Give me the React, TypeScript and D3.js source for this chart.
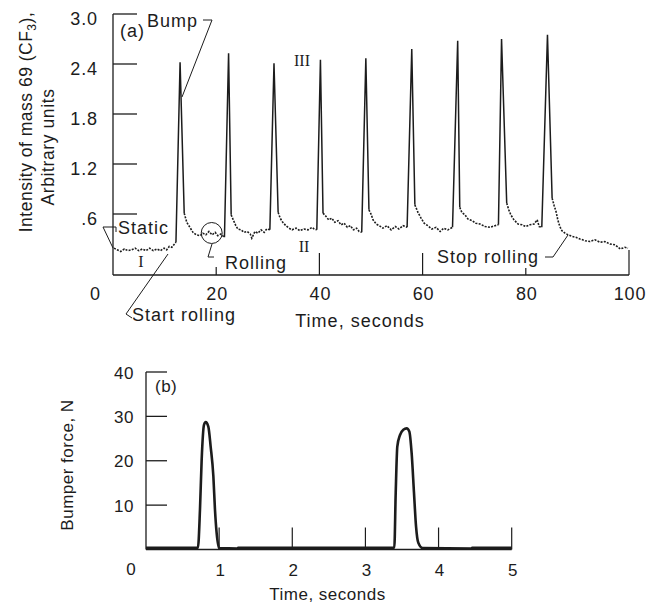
import React from 'react';
import * as d3 from 'd3';

// ---------- Panel (a): intensity of mass 69 vs time ----------
const yTicksA = [0.6, 1.2, 1.8, 2.4, 3.0];
const yTickLabelsA = ['.6', '1.2', '1.8', '2.4', '3.0'];
const xTicksA = [20, 40, 60, 80, 100];
const xTickLabelsA = ['20', '40', '60', '80', '100'];

// spikes (bumps): rise start, peak, end of fast fall
const riseT = [12.2, 21.6, 30.4, 39.5, 48.2, 57.0, 65.8, 74.7, 83.1];
const riseV = [0.26, 0.32, 0.41, 0.41, 0.38, 0.44, 0.44, 0.47, 0.44];
const peakT = [13.0, 22.4, 31.2, 40.2, 49.0, 57.9, 66.8, 75.3, 84.2];
const peakV = [2.42, 2.53, 2.41, 2.45, 2.47, 2.58, 2.68, 2.70, 2.75];
const fallT = [13.8, 22.9, 32.0, 40.7, 49.6, 58.5, 67.2, 76.3, 85.1];
const fallV = [0.61, 0.59, 0.62, 0.61, 0.65, 0.71, 0.68, 0.73, 0.79];

// quiet (dotted) stretches between bumps: [time, intensity]
const quiet0: [number, number][] = [[0.2,0.19],[0.8,0.17],[1.5,0.15],[2.2,0.18],[2.9,0.16],[3.6,0.17],[4.3,0.19],[5.0,0.16],[5.7,0.18],[6.4,0.16],[7.1,0.19],[7.8,0.16],[8.5,0.18],[9.2,0.16],[9.9,0.19],[10.4,0.17],[10.9,0.21],[11.4,0.2],[11.8,0.23],[12.2,0.26]];
const quiet1: [number, number][] = [[13.8,0.61],[14.3,0.5],[14.9,0.44],[15.5,0.38],[16.1,0.35],[16.9,0.34],[17.4,0.37],[18.0,0.35],[18.6,0.39],[19.2,0.35],[19.8,0.38],[20.3,0.34],[20.9,0.36],[21.6,0.32]];
const quiet2: [number, number][] = [[22.9,0.59],[23.3,0.53],[23.8,0.46],[24.2,0.42],[24.8,0.41],[25.4,0.38],[26.0,0.39],[26.6,0.36],[26.9,0.31],[27.5,0.39],[28.1,0.37],[28.7,0.41],[29.3,0.38],[29.8,0.42],[30.4,0.41]];
const quiet3: [number, number][] = [[32.0,0.62],[32.4,0.55],[32.9,0.5],[33.5,0.46],[34.1,0.43],[34.7,0.41],[35.5,0.43],[36.2,0.4],[37.0,0.42],[37.8,0.41],[38.6,0.44],[39.0,0.42],[39.5,0.41]];
const quiet4: [number, number][] = [[40.7,0.61],[41.3,0.57],[41.8,0.53],[42.4,0.55],[43.0,0.5],[43.6,0.52],[44.2,0.47],[44.8,0.49],[45.4,0.44],[46.0,0.46],[46.6,0.41],[47.2,0.43],[47.7,0.39],[48.2,0.38]];
const quiet5: [number, number][] = [[49.6,0.65],[50.0,0.6],[50.4,0.53],[51.0,0.48],[51.6,0.46],[52.3,0.43],[53.1,0.46],[53.9,0.41],[54.7,0.45],[55.4,0.42],[56.2,0.46],[57.0,0.44]];
const quiet6: [number, number][] = [[58.5,0.71],[59.1,0.62],[59.7,0.55],[60.3,0.49],[61.0,0.46],[61.8,0.42],[62.6,0.44],[63.4,0.39],[64.1,0.43],[64.9,0.41],[65.8,0.44]];
const quiet7: [number, number][] = [[67.2,0.68],[67.6,0.62],[68.2,0.59],[68.8,0.54],[69.6,0.52],[70.3,0.49],[71.1,0.48],[72.1,0.45],[73.1,0.44],[74.0,0.46],[74.7,0.47]];
const quiet8: [number, number][] = [[76.3,0.73],[76.7,0.65],[77.1,0.59],[77.7,0.53],[78.5,0.48],[79.3,0.47],[80.0,0.45],[80.8,0.47],[81.6,0.48],[82.2,0.53],[82.6,0.45],[83.1,0.44]];
const quiet9: [number, number][] = [[85.1,0.79],[85.5,0.7],[85.9,0.62],[86.2,0.53],[86.6,0.45],[87.0,0.4],[87.6,0.37],[88.2,0.35],[89.0,0.33],[89.7,0.32],[90.5,0.3],[91.5,0.28],[92.4,0.27],[93.4,0.29],[94.4,0.26],[95.3,0.27],[96.3,0.24],[97.3,0.23],[98.3,0.18],[99.2,0.2],[99.8,0.19]];
const quietA = [quiet0, quiet1, quiet2, quiet3, quiet4, quiet5, quiet6, quiet7, quiet8, quiet9];

// ---------- Panel (b): bumper force vs time ----------
const yTicksB = [10, 20, 30, 40];
const xTicksB = [1, 2, 3, 4, 5];
const timeB = [0, 0.4, 0.71, 0.738, 0.761, 0.793, 0.816, 0.852, 0.884, 0.921, 0.943, 0.966, 1.0, 1.25, 1.26, 2.5, 3.395, 3.414, 3.436, 3.473, 3.518, 3.564, 3.6, 3.632, 3.664, 3.692, 3.723, 3.783, 4.45, 4.46, 5.0];
const forceB = [0.4, 0.4, 0.4, 9.0, 20.2, 28.1, 28.7, 27.7, 23.2, 16.5, 9.0, 3.7, 0.3, 0.2, 0.4, 0.4, 0.4, 12.7, 23.2, 25.8, 27.0, 27.3, 26.6, 21.7, 12.8, 5.2, 1.5, 0.3, 0.2, 0.4, 0.4];

const SANS = '"Liberation Sans", Arial, Helvetica, sans-serif';
const SERIF = '"Liberation Serif", "Times New Roman", serif';
const INK = '#1c1c1c';

export default function App() {
  const xA = d3.scaleLinear().domain([0, 100]).range([113, 629]);
  const yA = d3.scaleLinear().domain([-0.132, 3.0]).range([275, 14]);
  const xB = d3.scaleLinear().domain([0, 5]).range([146, 511.7]);
  const yB = d3.scaleLinear().domain([0, 40]).range([549.5, 372]);

  const lineA = d3.line<[number, number]>().x(d => xA(d[0])).y(d => yA(d[1]));
  const spikes = peakT.map((t, i) => lineA([[riseT[i], riseV[i]], [t, peakV[i]], [fallT[i], fallV[i]]]) as string);
  const lineB = d3.line<number>().x((_, i) => xB(timeB[i])).y(d => yB(d)).curve(d3.curveMonotoneX);

  const xTickLenA = [8, 22, 22, 7, 25];
  const ann = { fontFamily: SANS, fontSize: 18, letterSpacing: 1, fill: INK } as const;

  return (
    <svg width={647} height={607} style={{ position: 'absolute', left: 0, top: 0, background: '#fff' }}>
      {/* ===== Panel (a) ===== */}
      <g>
        <line x1={xA(0)} x2={xA(0)} y1={yA(3.0)} y2={yA(-0.132)} stroke={INK} strokeWidth={1.3} />
        <line x1={xA(0)} x2={xA(100)} y1={yA(-0.132)} y2={yA(-0.132)} stroke={INK} strokeWidth={1.3} />
        {yTicksA.map((v, i) => (
          <g key={'ya' + i}>
            <line x1={xA(0)} x2={xA(0) + 24} y1={yA(v)} y2={yA(v)} stroke={INK} strokeWidth={1.3} />
            <text x={98} y={yA(v) + 10.5} textAnchor="end" fontFamily={SANS} fontSize={18} letterSpacing={0.9} fill={INK}>{yTickLabelsA[i]}</text>
          </g>
        ))}
        <text x={95} y={300} textAnchor="middle" fontFamily={SANS} fontSize={18} fill={INK}>0</text>
        {xTicksA.map((v, i) => (
          <g key={'xa' + i}>
            <line x1={xA(v)} x2={xA(v)} y1={yA(-0.132)} y2={yA(-0.132) - xTickLenA[i]} stroke={INK} strokeWidth={1.2} />
            <text x={xA(v) + 1} y={300} textAnchor="middle" fontFamily={SANS} fontSize={18} letterSpacing={0.9} fill={INK}>{xTickLabelsA[i]}</text>
          </g>
        ))}
        <text x={360} y={327} textAnchor="middle" {...ann}>Time, seconds</text>
        <text transform="translate(32,122) rotate(-90)" textAnchor="middle" fontFamily={SANS} fontSize={17.5} letterSpacing={0.5} fill={INK}>
          Intensity of mass 69 (CF<tspan fontSize={12} dy={4}>3</tspan><tspan dy={-4}>),</tspan>
        </text>
        <text transform="translate(54,147) rotate(-90)" textAnchor="middle" fontFamily={SANS} fontSize={17.5} letterSpacing={0.6} fill={INK}>Arbitrary units</text>

        {/* trace */}
        {quietA.map((seg, i) => (
          <path key={'q' + i} d={lineA(seg) as string} fill="none" stroke={INK} strokeWidth={1.6} strokeDasharray="2 1.3" />
        ))}
        {spikes.map((d, i) => (
          <path key={'s' + i} d={d} fill="none" stroke={INK} strokeWidth={1.5} strokeLinejoin="miter" />
        ))}

        {/* annotations */}
        <text x={120} y={37} {...ann}>(a)</text>
        <text x={147} y={27} {...ann}>Bump</text>
        <path d="M203,20 L212,20 L182,97" fill="none" stroke={INK} strokeWidth={1} />
        <text x={302} y={66} textAnchor="middle" fontFamily={SERIF} fontSize={16} fill={INK}>III</text>
        <text x={304} y={252} textAnchor="middle" fontFamily={SERIF} fontSize={16} fill={INK}>II</text>
        <text x={141} y={267} textAnchor="middle" fontFamily={SERIF} fontSize={16} fill={INK}>I</text>
        <text x={118} y={234} {...ann}>Static</text>
        <path d="M116,232 L116,227 L103,227 L113,248" fill="none" stroke={INK} strokeWidth={1} />
        <text x={132} y={321} {...ann}>Start rolling</text>
        <path d="M132,318 L126,314 L168,254" fill="none" stroke={INK} strokeWidth={1} />
        <circle cx={211.7} cy={233} r={10.5} fill="none" stroke={INK} strokeWidth={1} />
        <path d="M212,244 L208,257 L214,257" fill="none" stroke={INK} strokeWidth={1} />
        <text x={225} y={269} {...ann}>Rolling</text>
        <text x={437} y={263} {...ann}>Stop rolling</text>
        <path d="M545,257 L553,257 L568,235" fill="none" stroke={INK} strokeWidth={1} />
      </g>

      {/* ===== Panel (b) ===== */}
      <g>
        <line x1={xB(0)} x2={xB(0)} y1={yB(40)} y2={yB(0)} stroke={INK} strokeWidth={1.3} />
        <line x1={xB(0)} x2={xB(5)} y1={yB(0)} y2={yB(0)} stroke={INK} strokeWidth={1.3} />
        {yTicksB.map(v => (
          <g key={'yb' + v}>
            <line x1={xB(0)} x2={xB(0) + 21} y1={yB(v)} y2={yB(v)} stroke={INK} strokeWidth={1.3} />
            <text x={134} y={yB(v) + 6.5} textAnchor="end" fontFamily={SANS} fontSize={17} letterSpacing={0.5} fill={INK}>{v}</text>
          </g>
        ))}
        <text x={131} y={575} textAnchor="middle" fontFamily={SANS} fontSize={17} fill={INK}>0</text>
        {xTicksB.map(v => (
          <g key={'xb' + v}>
            <line x1={xB(v)} x2={xB(v)} y1={yB(0)} y2={yB(0) - 22} stroke={INK} strokeWidth={1.2} />
            <text x={xB(v) + 1} y={576} textAnchor="middle" fontFamily={SANS} fontSize={17} fill={INK}>{v}</text>
          </g>
        ))}
        <text x={327.5} y={600} textAnchor="middle" fontFamily={SANS} fontSize={17} letterSpacing={0.5} fill={INK}>Time, seconds</text>
        <text transform="translate(73,465) rotate(-90)" textAnchor="middle" fontFamily={SANS} fontSize={17} letterSpacing={0.5} fill={INK}>Bumper force, N</text>
        <text x={155} y={392} fontFamily={SANS} fontSize={17} letterSpacing={0.5} fill={INK}>(b)</text>
        <path d={lineB(forceB) as string} fill="none" stroke={INK} strokeWidth={2.6} strokeLinejoin="round" />
      </g>
    </svg>
  );
}
